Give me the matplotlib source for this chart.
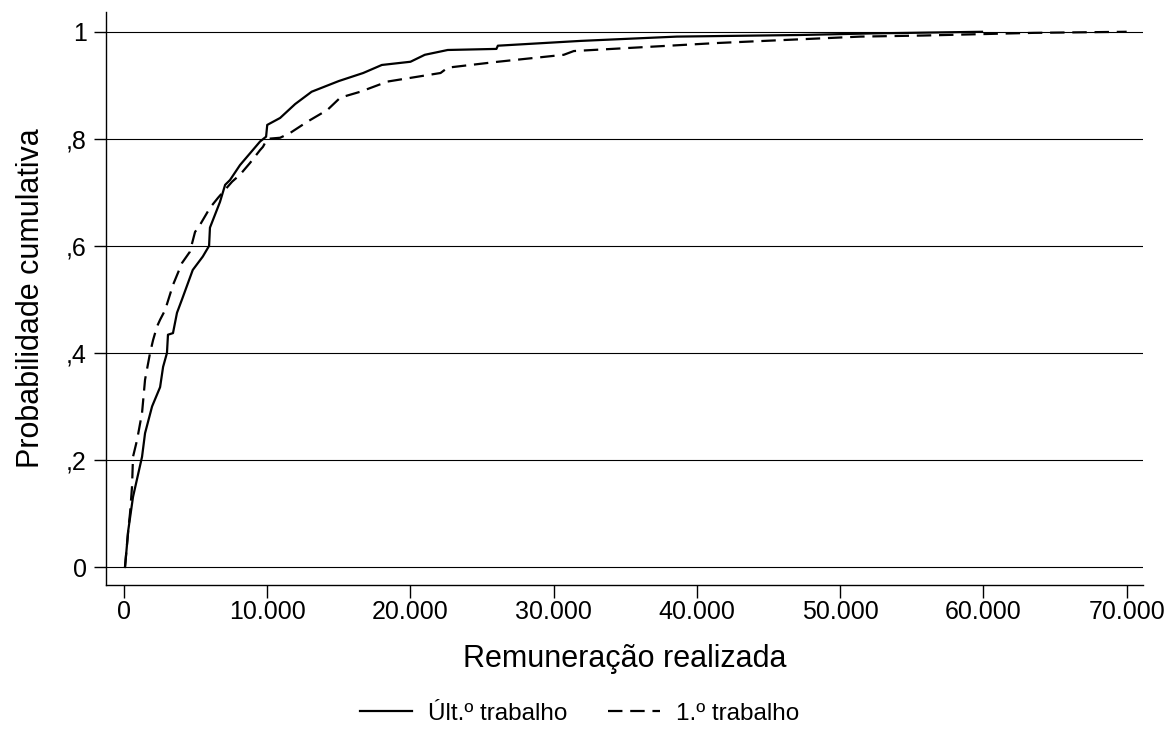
import numpy as np
import matplotlib.pyplot as plt

plt.rcParams['font.family'] = ['Liberation Sans', 'DejaVu Sans']

ult_x = [70, 300, 630, 1260, 1470, 1960, 2520, 2730, 3000, 3070, 3420, 3700,
         4050, 4800, 5500, 5940, 6000, 6700, 7060, 7400, 8100, 8800, 9500,
         9920, 10000, 10900, 11950, 13100, 15000, 16700, 18000, 20000, 21000,
         22600, 26000, 26100, 31900, 38600, 47200, 52300, 59900]
ult_y = [0.0, 0.069, 0.131, 0.206, 0.25, 0.30, 0.336, 0.374, 0.40, 0.434,
         0.437, 0.475, 0.50, 0.555, 0.58, 0.60, 0.634, 0.682, 0.714, 0.723,
         0.751, 0.773, 0.795, 0.804, 0.826, 0.839, 0.865, 0.888, 0.908, 0.923,
         0.938, 0.944, 0.957, 0.966, 0.968, 0.974, 0.983, 0.991, 0.994, 0.997,
         1.0]

# empirical CDF, first job
pri_x = [70, 300, 420, 560, 630, 910, 1260, 1470, 1820, 2030, 2300, 2520,
         2870, 3420, 4050, 4600, 4960, 5300, 6000, 6570, 7550, 8100, 8800,
         9500, 9700, 10000, 10900, 11600, 12800, 14200, 15100, 16500, 18400,
         22100, 22600, 26100, 30700, 31400, 41400, 51400, 55800, 63500, 70000]
pri_y = [0.0, 0.07, 0.10, 0.15, 0.206, 0.237, 0.288, 0.35, 0.40, 0.424, 0.449,
         0.462, 0.48, 0.527, 0.568, 0.589, 0.626, 0.639, 0.671, 0.69, 0.72,
         0.733, 0.755, 0.779, 0.785, 0.80, 0.802, 0.811, 0.832, 0.854, 0.877,
         0.888, 0.907, 0.923, 0.933, 0.944, 0.957, 0.964, 0.979, 0.991, 0.993,
         0.998, 1.0]

x_ticks = [0, 10000, 20000, 30000, 40000, 50000, 60000, 70000]
x_labels = ["0", "10.000", "20.000", "30.000", "40.000", "50.000", "60.000",
            "70.000"]
y_ticks = [0, 0.2, 0.4, 0.6, 0.8, 1.0]
y_labels = ["0", ",2", ",4", ",6", ",8", "1"]

fig = plt.figure(figsize=(11.71, 7.35), dpi=100)
ax = fig.add_axes([0.0905, 0.2041, 0.8856, 0.7796])

for yv in y_ticks:
    ax.axhline(yv, color="black", lw=0.8, zorder=1)

ax.plot(ult_x, ult_y, color="black", lw=1.6, label="Últ.º trabalho",
        zorder=3)
ax.plot(pri_x, pri_y, color="black", lw=1.6, linestyle=(0, (6.5, 3.5)),
        label="1.º trabalho", zorder=3)

ax.set_xlim(-1258, 71140)
ax.set_ylim(-0.0336, 1.037)
ax.set_xticks(x_ticks)
ax.set_xticklabels(x_labels)
ax.set_yticks(y_ticks)
ax.set_yticklabels(y_labels)
ax.tick_params(axis="both", labelsize=18, length=9, width=1, direction="out",
               colors="black")
ax.tick_params(axis="x", pad=2)
ax.tick_params(axis="y", pad=5)

ax.spines["top"].set_visible(False)
ax.spines["right"].set_visible(False)
ax.spines["left"].set_linewidth(1)
ax.spines["bottom"].set_linewidth(1)

ax.set_xlabel("Remuneração realizada", fontsize=22, labelpad=14)
ax.set_ylabel("Probabilidade cumulativa", fontsize=22, labelpad=14)

fig.legend(loc="center", bbox_to_anchor=(0.495, 0.029), ncol=2, frameon=False,
           fontsize=17.5, handlelength=2.15, columnspacing=1.65,
           handletextpad=0.66)

fig.savefig("out.png", dpi=100)
